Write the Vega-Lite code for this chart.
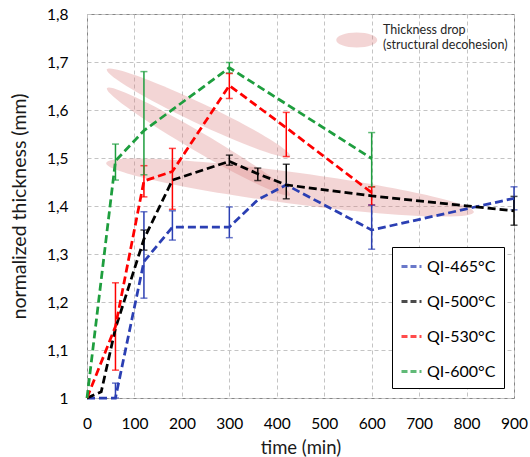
{
  "$schema": "https://vega.github.io/schema/vega-lite/v6.json",
  "width": 427,
  "height": 384,
  "autosize": {"type": "none"},
  "padding": {"left": 87, "top": 14, "right": 16, "bottom": 59},
  "background": "white",
  "config": {
    "font": "Lato",
    "view": {"stroke": "#868686", "strokeWidth": 1},
    "axis": {
      "grid": true, "gridColor": "#c4c4c4", "gridDash": [4, 3], "gridWidth": 1,
      "domain": false, "ticks": false, "tickSize": 0, "labelFlush": false, "labelOverlap": false,
      "labelFont": "Lato", "labelFontSize": 15.5, "labelColor": "#000000",
      "titleFont": "Lato", "titleFontWeight": "normal", "titleColor": "#1a1a1a"
    },
    "axisX": {"titleFontSize": 18.5},
    "axisY": {"titleFontSize": 19.5}
  },
  "datasets": {
    "series": [
      {"s": "QI-465°C", "t": 0, "v": 1.0},
      {"s": "QI-465°C", "t": 60, "v": 1.0},
      {"s": "QI-465°C", "t": 120, "v": 1.284},
      {"s": "QI-465°C", "t": 180, "v": 1.356},
      {"s": "QI-465°C", "t": 300, "v": 1.356},
      {"s": "QI-465°C", "t": 360, "v": 1.413},
      {"s": "QI-465°C", "t": 420, "v": 1.444},
      {"s": "QI-465°C", "t": 600, "v": 1.35},
      {"s": "QI-465°C", "t": 900, "v": 1.416},
      {"s": "QI-500°C", "t": 0, "v": 1.0},
      {"s": "QI-500°C", "t": 30, "v": 1.013},
      {"s": "QI-500°C", "t": 60, "v": 1.145},
      {"s": "QI-500°C", "t": 120, "v": 1.331},
      {"s": "QI-500°C", "t": 180, "v": 1.454},
      {"s": "QI-500°C", "t": 300, "v": 1.493},
      {"s": "QI-500°C", "t": 360, "v": 1.467},
      {"s": "QI-500°C", "t": 420, "v": 1.444},
      {"s": "QI-500°C", "t": 600, "v": 1.421},
      {"s": "QI-500°C", "t": 900, "v": 1.39},
      {"s": "QI-530°C", "t": 0, "v": 1.0},
      {"s": "QI-530°C", "t": 60, "v": 1.149},
      {"s": "QI-530°C", "t": 120, "v": 1.452},
      {"s": "QI-530°C", "t": 180, "v": 1.472},
      {"s": "QI-530°C", "t": 300, "v": 1.651},
      {"s": "QI-530°C", "t": 420, "v": 1.563},
      {"s": "QI-530°C", "t": 600, "v": 1.428},
      {"s": "QI-600°C", "t": 0, "v": 1.0},
      {"s": "QI-600°C", "t": 60, "v": 1.494},
      {"s": "QI-600°C", "t": 120, "v": 1.557},
      {"s": "QI-600°C", "t": 300, "v": 1.688},
      {"s": "QI-600°C", "t": 600, "v": 1.499}
    ],
    "errs": [
      {"s": "QI-465°C", "t": 60, "lo": 1.0, "hi": 1.031},
      {"s": "QI-465°C", "t": 120, "lo": 1.208, "hi": 1.388},
      {"s": "QI-465°C", "t": 180, "lo": 1.329, "hi": 1.39},
      {"s": "QI-465°C", "t": 300, "lo": 1.334, "hi": 1.398},
      {"s": "QI-465°C", "t": 600, "lo": 1.31, "hi": 1.402},
      {"s": "QI-465°C", "t": 900, "lo": 1.392, "hi": 1.44},
      {"s": "QI-500°C", "t": 120, "lo": 1.308, "hi": 1.35},
      {"s": "QI-500°C", "t": 300, "lo": 1.485, "hi": 1.506},
      {"s": "QI-500°C", "t": 360, "lo": 1.453, "hi": 1.479},
      {"s": "QI-500°C", "t": 420, "lo": 1.415, "hi": 1.487},
      {"s": "QI-500°C", "t": 900, "lo": 1.36, "hi": 1.42},
      {"s": "QI-530°C", "t": 60, "lo": 1.058, "hi": 1.24},
      {"s": "QI-530°C", "t": 120, "lo": 1.419, "hi": 1.484},
      {"s": "QI-530°C", "t": 180, "lo": 1.393, "hi": 1.52},
      {"s": "QI-530°C", "t": 300, "lo": 1.624, "hi": 1.676},
      {"s": "QI-530°C", "t": 420, "lo": 1.503, "hi": 1.595},
      {"s": "QI-530°C", "t": 600, "lo": 1.402, "hi": 1.44},
      {"s": "QI-600°C", "t": 60, "lo": 1.454, "hi": 1.529},
      {"s": "QI-600°C", "t": 120, "lo": 1.465, "hi": 1.68},
      {"s": "QI-600°C", "t": 300, "lo": 1.677, "hi": 1.699},
      {"s": "QI-600°C", "t": 600, "lo": 1.44, "hi": 1.553}
    ],
    "ellipseA": [{"t": 235, "v": 1.594}],
    "ellipseB": [{"t": 235, "v": 1.534}],
    "ellipseC": [{"t": 428, "v": 1.4385}],
    "ellipseKey": [{"t": 568.5, "v": 1.746}],
    "notes": [
      {"t": 624, "v": 1.767, "label": "Thickness drop"},
      {"t": 624, "v": 1.735, "label": "(structural decohesion)"}
    ]
  },
  "layer": [
    {
      "data": {"name": "ellipseA"},
      "mark": {"type": "point", "filled": true, "fill": "#db8080", "opacity": 0.33, "strokeWidth": 0, "size": 41209, "angle": 25.4,
        "shape": "M-1,0C-1,-0.0552,-0.5523,-0.1,0,-0.1C0.5523,-0.1,1,-0.0552,1,0C1,0.0552,0.5523,0.1,0,0.1C-0.5523,0.1,-1,0.0552,-1,0Z"},
      "encoding": {
        "x": {"field": "t", "type": "quantitative", "scale": {"domain": [0, 900], "nice": false}, "title": "time (min)"},
        "y": {"field": "v", "type": "quantitative", "scale": {"domain": [1, 1.8], "nice": false, "zero": false}, "title": "normalized thickness (mm)"}
      }
    },
    {
      "data": {"name": "ellipseB"},
      "mark": {"type": "point", "filled": true, "fill": "#db8080", "opacity": 0.33, "strokeWidth": 0, "size": 44944, "angle": 30.3,
        "shape": "M-1,0C-1,-0.0497,-0.5523,-0.09,0,-0.09C0.5523,-0.09,1,-0.0497,1,0C1,0.0497,0.5523,0.09,0,0.09C-0.5523,0.09,-1,0.0497,-1,0Z"},
      "encoding": {
        "x": {"field": "t", "type": "quantitative", "scale": {"domain": [0, 900], "nice": false}, "title": "time (min)"},
        "y": {"field": "v", "type": "quantitative", "scale": {"domain": [1, 1.8], "nice": false, "zero": false}, "title": "normalized thickness (mm)"}
      }
    },
    {
      "data": {"name": "ellipseC"},
      "mark": {"type": "point", "filled": true, "fill": "#db8080", "opacity": 0.33, "strokeWidth": 0, "size": 137641, "angle": 7.6,
        "shape": "M-1,0C-1,-0.0469,-0.5523,-0.085,0,-0.085C0.5523,-0.085,1,-0.0469,1,0C1,0.0469,0.5523,0.085,0,0.085C-0.5523,0.085,-1,0.0469,-1,0Z"},
      "encoding": {
        "x": {"field": "t", "type": "quantitative", "scale": {"domain": [0, 900], "nice": false}, "title": "time (min)"},
        "y": {"field": "v", "type": "quantitative", "scale": {"domain": [1, 1.8], "nice": false, "zero": false}, "title": "normalized thickness (mm)"}
      }
    },
    {
      "data": {"name": "ellipseKey"},
      "mark": {"type": "point", "filled": true, "fill": "#db8080", "opacity": 0.33, "strokeWidth": 0, "size": 1681, "angle": 0,
        "shape": "M-1,0C-1,-0.2021,-0.5523,-0.366,0,-0.366C0.5523,-0.366,1,-0.2021,1,0C1,0.2021,0.5523,0.366,0,0.366C-0.5523,0.366,-1,0.2021,-1,0Z"},
      "encoding": {
        "x": {"field": "t", "type": "quantitative", "scale": {"domain": [0, 900], "nice": false}, "title": "time (min)"},
        "y": {"field": "v", "type": "quantitative", "scale": {"domain": [1, 1.8], "nice": false, "zero": false}, "title": "normalized thickness (mm)"}
      }
    },
    {
      "data": {"name": "notes"},
      "mark": {"type": "text", "align": "left", "baseline": "middle", "font": "Lato", "fontSize": 12.5, "color": "#262626"},
      "encoding": {
        "x": {"field": "t", "type": "quantitative", "scale": {"domain": [0, 900], "nice": false}, "title": "time (min)"},
        "y": {"field": "v", "type": "quantitative", "scale": {"domain": [1, 1.8], "nice": false, "zero": false}, "title": "normalized thickness (mm)"},
        "text": {"field": "label"}
      }
    },
    {
      "data": {"name": "errs"},
      "mark": {"type": "errorbar", "thickness": 1.5, "ticks": {"size": 7, "thickness": 1.5}},
      "encoding": {
        "x": {"field": "t", "type": "quantitative", "scale": {"domain": [0, 900], "nice": false}, "title": "time (min)"},
        "y": {"field": "lo", "type": "quantitative", "scale": {"domain": [1, 1.8], "nice": false, "zero": false}, "title": "normalized thickness (mm)"},
        "y2": {"field": "hi"},
        "color": {"field": "s", "type": "nominal",
          "scale": {"domain": ["QI-465°C", "QI-500°C", "QI-530°C", "QI-600°C"], "range": ["#2b3fb3", "#000000", "#ff0000", "#1e9e3e"]}}
      }
    },
    {
      "data": {"name": "series"},
      "mark": {"type": "line", "strokeDash": [8, 4], "strokeWidth": 2.75},
      "encoding": {
        "x": {"field": "t", "type": "quantitative", "scale": {"domain": [0, 900], "nice": false}, "title": "time (min)",
          "axis": {"values": [0, 100, 200, 300, 400, 500, 600, 700, 800, 900], "labelBaseline": "middle", "labelPadding": 25,
            "titleY": 49, "titleBaseline": "middle"}},
        "y": {"field": "v", "type": "quantitative", "scale": {"domain": [1, 1.8], "nice": false, "zero": false}, "title": "normalized thickness (mm)",
          "axis": {"values": [1, 1.1, 1.2, 1.3, 1.4, 1.5, 1.6, 1.7, 1.8], "labelPadding": 19,
            "labelExpr": "replace(format(datum.value, '.1~f'), '.', ',')",
            "titleX": -68, "titleBaseline": "middle"}},
        "color": {"field": "s", "type": "nominal",
          "scale": {"domain": ["QI-465°C", "QI-500°C", "QI-530°C", "QI-600°C"], "range": ["#2b3fb3", "#000000", "#ff0000", "#1e9e3e"]},
          "legend": {"orient": "none", "legendX": 305, "legendY": 233, "title": null,
            "symbolType": "stroke", "symbolSize": 400, "symbolStrokeWidth": 3, "symbolDash": [6, 3],
            "labelFont": "Lato", "labelFontSize": 16, "labelColor": "#000000", "labelOffset": 4,
            "rowPadding": 15, "padding": 8, "strokeColor": "#000000", "fillColor": "#ffffff"}}
      }
    }
  ]
}
